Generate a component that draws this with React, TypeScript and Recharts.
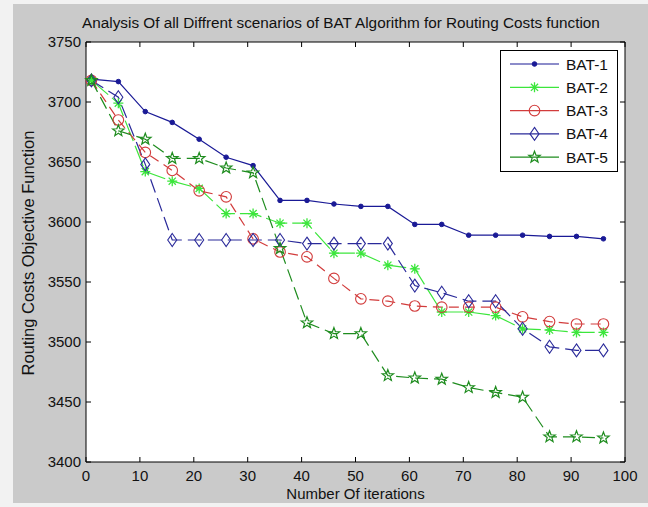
import { LineChart, Line, XAxis, YAxis, CartesianGrid, ReferenceArea } from 'recharts';

const iterations = [1, 6, 11, 16, 21, 26, 31, 36, 41, 46, 51, 56, 61, 66, 71, 76, 81, 86, 91, 96];
const bat1 = [3719, 3717, 3692, 3683, 3669, 3654, 3647, 3618, 3618, 3615, 3613, 3613, 3598, 3598, 3589, 3589, 3589, 3588, 3588, 3586];
const bat2 = [3718, 3699, 3642, 3634, 3628, 3607, 3607, 3599, 3599, 3574, 3574, 3564, 3561, 3525, 3525, 3522, 3511, 3510, 3508, 3508];
const bat3 = [3718, 3685, 3658, 3643, 3626, 3621, 3586, 3575, 3571, 3553, 3536, 3534, 3530, 3529, 3529, 3529, 3521, 3517, 3515, 3515];
const bat4 = [3718, 3704, 3648, 3585, 3585, 3585, 3585, 3585, 3582, 3582, 3582, 3582, 3547, 3541, 3534, 3534, 3511, 3496, 3493, 3493];
const bat5 = [3718, 3676, 3669, 3653, 3653, 3645, 3641, 3578, 3516, 3507, 3507, 3472, 3470, 3469, 3462, 3458, 3454, 3421, 3421, 3420];

const xTicks = [0, 10, 20, 30, 40, 50, 60, 70, 80, 90, 100];
const yTicks = [3400, 3450, 3500, 3550, 3600, 3650, 3700, 3750];

const data = iterations.map((it, i) => ({
  it,
  b1: bat1[i],
  b2: bat2[i],
  b3: bat3[i],
  b4: bat4[i],
  b5: bat5[i],
}));

// plot box in pixels (used only for the inward tick marks)
const TOP = 42;
const BOTTOM = 462;
const LEFT = 86;
const RIGHT = 625;
const FONT = '"Liberation Sans", Arial, sans-serif';

type Kind = 'dot' | 'star' | 'circle' | 'diamond' | 'penta';

const series: { key: string; name: string; color: string; kind: Kind; dash?: string }[] = [
  { key: 'b1', name: 'BAT-1', color: '#1a1a96', kind: 'dot' },
  { key: 'b2', name: 'BAT-2', color: '#3ce63c', kind: 'star', dash: '22 5' },
  { key: 'b3', name: 'BAT-3', color: '#d23c3c', kind: 'circle', dash: '10 6' },
  { key: 'b4', name: 'BAT-4', color: '#2a2a9a', kind: 'diamond', dash: '14 6' },
  { key: 'b5', name: 'BAT-5', color: '#1e8c1e', kind: 'penta', dash: '13 6' },
];

function Marker({ cx, cy, kind, color }: { cx: number; cy: number; kind: Kind; color: string }) {
  if (kind === 'dot') return <circle cx={cx} cy={cy} r={2.3} fill={color} stroke={color} />;
  if (kind === 'circle') return <circle cx={cx} cy={cy} r={5.3} fill="none" stroke={color} strokeWidth={1.1} />;
  if (kind === 'diamond')
    return (
      <polygon
        points={`${cx},${cy - 6.5} ${cx + 4.5},${cy} ${cx},${cy + 6.5} ${cx - 4.5},${cy}`}
        fill="none"
        stroke={color}
        strokeWidth={1.1}
      />
    );
  if (kind === 'star') {
    const r = 5;
    const d = 3.6;
    return (
      <path
        d={`M${cx - r},${cy}H${cx + r}M${cx},${cy - r}V${cy + r}M${cx - d},${cy - d}L${cx + d},${cy + d}M${cx - d},${cy + d}L${cx + d},${cy - d}`}
        stroke={color}
        strokeWidth={1.3}
      />
    );
  }
  const pts: string[] = [];
  for (let i = 0; i < 10; i++) {
    const rad = i % 2 === 0 ? 6 : 2.5;
    const a = -Math.PI / 2 + (i * Math.PI) / 5;
    pts.push(`${cx + rad * Math.cos(a)},${cy + rad * Math.sin(a)}`);
  }
  return <polygon points={pts.join(' ')} fill="none" stroke={color} strokeWidth={1.2} />;
}

const XTick = ({ x, payload }: any) => (
  <g>
    <line x1={x} x2={x} y1={BOTTOM} y2={BOTTOM - 5} stroke="#000" />
    <line x1={x} x2={x} y1={TOP} y2={TOP + 5} stroke="#000" />
    <text x={x} y={BOTTOM + 19} textAnchor="middle" fontSize={15} fontFamily={FONT} fill="#111">
      {payload.value}
    </text>
  </g>
);

const YTick = ({ y, payload }: any) => (
  <g>
    <line x1={LEFT} x2={LEFT + 5} y1={y} y2={y} stroke="#000" />
    <line x1={RIGHT} x2={RIGHT - 5} y1={y} y2={y} stroke="#000" />
    <text x={LEFT - 5} y={y + 5} textAnchor="end" fontSize={15} fontFamily={FONT} fill="#111">
      {payload.value}
    </text>
  </g>
);

const LegendBox = () => (
  <svg width={118} height={122} style={{ display: 'block' }}>
    <rect x={0.5} y={0.5} width={117} height={121} fill="#fff" stroke="#000" />
    {series.map((s, i) => {
      const y = 14 + i * 23.3;
      return (
        <g key={s.key}>
          <line x1={10} x2={59} y1={y} y2={y} stroke={s.color} strokeWidth={1.2} />
          <Marker cx={34.5} cy={y} kind={s.kind} color={s.color} />
          <text x={66} y={y + 5.5} fontSize={15.5} fontFamily={FONT} fill="#111">
            {s.name}
          </text>
        </g>
      );
    })}
  </svg>
);

export default function App() {
  return (
    <div style={{ width: 648, height: 507, background: '#f2f2f2', position: 'relative', fontFamily: FONT }}>
      <style>{'body{margin:0}'}</style>
      <div style={{ position: 'absolute', left: 13, top: 4, right: 0, bottom: 4, background: '#cacaca' }} />
      <LineChart
        width={648}
        height={507}
        data={data}
        margin={{ top: TOP, right: 648 - RIGHT, bottom: 0, left: 0 }}
        style={{ position: 'absolute', top: 0, left: 0 }}
      >
        <CartesianGrid fill="#fff" horizontal={false} vertical={false} />
        <XAxis
          dataKey="it"
          type="number"
          domain={[0, 100]}
          ticks={xTicks}
          height={507 - BOTTOM}
          tickLine={false}
          axisLine={false}
          tick={<XTick />}
          interval={0}
        />
        <YAxis
          type="number"
          domain={[3400, 3750]}
          ticks={yTicks}
          width={LEFT}
          tickLine={false}
          axisLine={false}
          tick={<YTick />}
          interval={0}
        />
        <ReferenceArea x1={0} x2={100} y1={3400} y2={3750} fill="none" stroke="#000" strokeWidth={1} ifOverflow="visible" />
        {series.map((s) => (
          <Line
            key={s.key}
            dataKey={s.key}
            name={s.name}
            type="linear"
            stroke={s.color}
            strokeWidth={1.2}
            strokeDasharray={s.dash}
            isAnimationActive={false}
            activeDot={false}
            dot={(p: any) => <Marker key={`${s.key}-${p.index}`} cx={p.cx} cy={p.cy} kind={s.kind} color={s.color} />}
          />
        ))}
      </LineChart>
      <div
        style={{
          position: 'absolute',
          top: 14,
          left: 26,
          width: 630,
          textAlign: 'center',
          fontSize: 15.3,
          color: '#111',
        }}
      >
        Analysis Of all Diffrent scenarios of BAT Algorithm for Routing Costs function
      </div>
      <div
        style={{
          position: 'absolute',
          top: 485,
          left: LEFT,
          width: RIGHT - LEFT,
          textAlign: 'center',
          fontSize: 15,
          color: '#111',
        }}
      >
        Number Of iterations
      </div>
      <div
        style={{
          position: 'absolute',
          left: 28,
          top: 253,
          transform: 'translate(-50%, -50%) rotate(-90deg)',
          whiteSpace: 'nowrap',
          fontSize: 16.5,
          color: '#111',
        }}
      >
        Routing Costs Objective Function
      </div>
      <div style={{ position: 'absolute', top: 50, left: 500 }}>
        <LegendBox />
      </div>
    </div>
  );
}
